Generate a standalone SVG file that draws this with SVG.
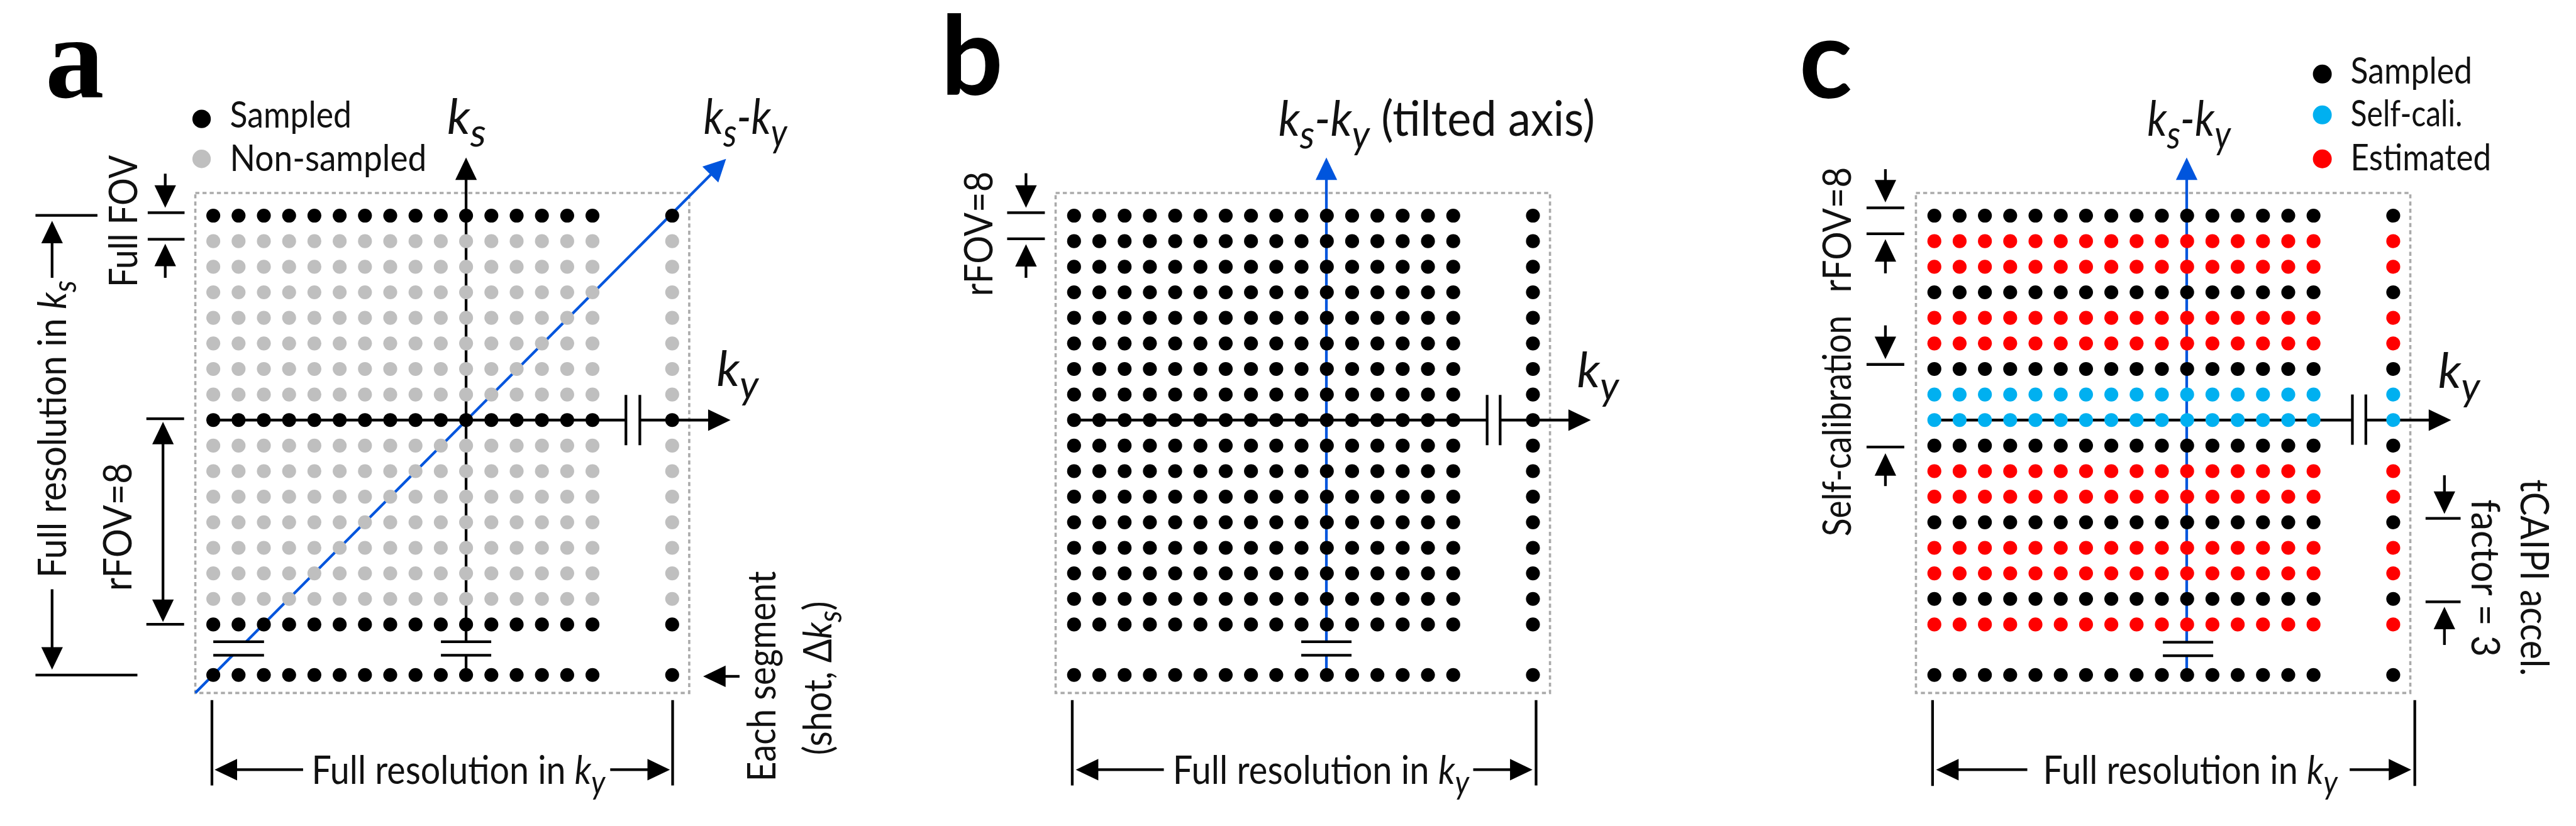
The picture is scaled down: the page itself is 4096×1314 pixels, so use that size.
<svg xmlns="http://www.w3.org/2000/svg" xmlns:xlink="http://www.w3.org/1999/xlink" width="4096" height="1314" viewBox="0 0 4096 1314">
<style>
.t{font-family:Lato,"Open Sans","Liberation Sans",sans-serif;font-size:86px;fill:#111}
.lg{font-family:Lato,"Open Sans","Liberation Sans",sans-serif;font-size:82px;fill:#111}
.k{font-family:Lato,"Open Sans","Liberation Sans",sans-serif;font-style:italic;font-size:108px;fill:#111}
.sub{font-size:88px}
.s2{font-size:72px}
.it{font-style:italic}
.up{font-style:normal}
.pl{font-family:Lato,"Open Sans","Liberation Sans",sans-serif;font-weight:700;font-size:245px;fill:#000}
.ln{stroke:#000;stroke-width:6;fill:none}
.bl{stroke:#0055dd;stroke-width:6;fill:none}
.box{fill:none;stroke:#aaaaaa;stroke-width:5;stroke-dasharray:9 7}
.K{fill:#000}
.G{fill:#bfbfbf}
.R{fill:#ff0000}
.C{fill:#00b0f0}
.bf{fill:#0055dd}
</style>
<defs>
<g id="row">
<circle cx="0" cy="0" r="15.5"/><circle cx="56.3" cy="0" r="15.5"/><circle cx="112.6" cy="0" r="15.5"/><circle cx="168.9" cy="0" r="15.5"/><circle cx="225.2" cy="0" r="15.5"/><circle cx="281.5" cy="0" r="15.5"/><circle cx="337.8" cy="0" r="15.5"/><circle cx="394.1" cy="0" r="15.5"/><circle cx="450.4" cy="0" r="15.5"/><circle cx="506.7" cy="0" r="15.5"/><circle cx="563" cy="0" r="15.5"/><circle cx="619.3" cy="0" r="15.5"/><circle cx="675.6" cy="0" r="15.5"/><circle cx="731.9" cy="0" r="15.5"/><circle cx="788.2" cy="0" r="15.5"/><circle cx="844.5" cy="0" r="15.5"/><circle cx="1022" cy="0" r="15.5"/>
</g>
<path id="aU" d="M0,0 L24,50 L-24,50Z"/>
<path id="aD" d="M0,0 L-24,-50 L24,-50Z"/>
<path id="aL" d="M0,0 L50,-24 L50,24Z"/>
<path id="aR" d="M0,0 L-50,-24 L-50,24Z"/>
</defs>
<rect width="4096" height="1314" fill="#fff"/>
<g transform="scale(0.71396)">

<!-- ================= PANEL A ================= -->
<g id="panel-a">
<text x="101" y="217" font-family="'Liberation Serif',serif" font-weight="700" font-size="262" fill="#000">a</text>
<g id="a-legend">
<circle cx="449" cy="265" r="20.5" class="K"/>
<circle cx="449" cy="354" r="20.5" class="G"/>
<text class="lg" x="512" y="285" textLength="271" lengthAdjust="spacingAndGlyphs">Sampled</text>
<text class="lg" x="512" y="381" textLength="438" lengthAdjust="spacingAndGlyphs">Non-sampled</text>
</g>
<rect class="box" x="435" y="430" width="1100" height="1114"/>
<g id="a-connectors">
<line class="bl" x1="435" y1="1544" x2="518" y2="1460"/>
<line class="bl" x1="548" y1="1430" x2="1583" y2="389"/>
<polygon class="bf" points="1617,354 1599.7,406.7 1564.3,371.3"/>
<line class="ln" x1="475" y1="1430" x2="588" y2="1430"/>
<line class="ln" x1="475" y1="1460" x2="588" y2="1460"/>
<line class="ln" x1="1038" y1="1504" x2="1038" y2="1460"/>
<line class="ln" x1="1038" y1="1430" x2="1038" y2="395"/>
<use href="#aU" x="1038" y="351"/>
<line class="ln" x1="982" y1="1430" x2="1094" y2="1430"/>
<line class="ln" x1="982" y1="1460" x2="1094" y2="1460"/>
<line class="ln" x1="475" y1="936" x2="1394" y2="936"/>
<line class="ln" x1="1425" y1="936" x2="1582" y2="936"/>
<use href="#aR" x="1627" y="936"/>
<line class="ln" x1="1394" y1="880" x2="1394" y2="992"/>
<line class="ln" x1="1425" y1="880" x2="1425" y2="992"/>
</g>
<g id="a-dots">
<use href="#row" x="475" y="480.5" class="K"/>
<use href="#row" x="475" y="537.4" class="G"/>
<use href="#row" x="475" y="594.4" class="G"/>
<use href="#row" x="475" y="651.3" class="G"/>
<use href="#row" x="475" y="708.2" class="G"/>
<use href="#row" x="475" y="765.2" class="G"/>
<use href="#row" x="475" y="822.1" class="G"/>
<use href="#row" x="475" y="879" class="G"/>
<use href="#row" x="475" y="935.9" class="K"/>
<use href="#row" x="475" y="992.9" class="G"/>
<use href="#row" x="475" y="1049.8" class="G"/>
<use href="#row" x="475" y="1106.7" class="G"/>
<use href="#row" x="475" y="1163.7" class="G"/>
<use href="#row" x="475" y="1220.6" class="G"/>
<use href="#row" x="475" y="1277.5" class="G"/>
<use href="#row" x="475" y="1334.5" class="G"/>
<use href="#row" x="475" y="1391.4" class="K"/>
<use href="#row" x="475" y="1504" class="K"/>
</g>
<g id="a-annotations">
<text class="k" x="996" y="299">k<tspan class="sub" dy="28">s</tspan></text>
<text class="k" x="1567" y="299" textLength="186" lengthAdjust="spacingAndGlyphs">k<tspan class="sub" dy="28">s</tspan><tspan dy="-28">-k</tspan><tspan class="sub" dy="28">y</tspan></text>
<text class="k" x="1596" y="860">k<tspan class="sub" dy="28">y</tspan></text>
<!-- Full FOV -->
<line class="ln" x1="329" y1="474" x2="411" y2="474"/>
<line class="ln" x1="329" y1="533" x2="411" y2="533"/>
<line class="ln" x1="368" y1="387" x2="368" y2="420"/>
<use href="#aD" x="368" y="463"/>
<use href="#aU" x="368" y="543"/>
<line class="ln" x1="368" y1="585" x2="368" y2="619"/>
<text class="t" transform="translate(305,493) rotate(-90)" text-anchor="middle" textLength="294" lengthAdjust="spacingAndGlyphs">Full FOV</text>
<!-- Full resolution in ks -->
<line class="ln" x1="79" y1="480" x2="217" y2="480"/>
<use href="#aU" x="116" y="492"/>
<line class="ln" x1="116" y1="535" x2="116" y2="619"/>
<line class="ln" x1="79" y1="1504" x2="306" y2="1504"/>
<line class="ln" x1="116" y1="1313" x2="116" y2="1450"/>
<use href="#aD" x="116" y="1492"/>
<text class="t" transform="translate(147,956) rotate(-90)" text-anchor="middle" textLength="663" lengthAdjust="spacingAndGlyphs">Full resolution in <tspan class="it">k</tspan><tspan class="it s2" dy="22">s</tspan></text>
<!-- rFOV=8 -->
<line class="ln" x1="326" y1="933" x2="410" y2="933"/>
<line class="ln" x1="326" y1="1391" x2="410" y2="1391"/>
<line class="ln" x1="363" y1="980" x2="363" y2="1350"/>
<use href="#aU" x="363" y="940"/>
<use href="#aD" x="363" y="1386"/>
<text class="t" transform="translate(293,1174) rotate(-90)" text-anchor="middle" textLength="285" lengthAdjust="spacingAndGlyphs">rFOV=8</text>
<!-- Each segment -->
<use href="#aL" x="1566" y="1507"/>
<line class="ln" x1="1605" y1="1507" x2="1647" y2="1507"/>
<text class="t" transform="translate(1727,1507) rotate(-90)" text-anchor="middle" textLength="469" lengthAdjust="spacingAndGlyphs">Each segment</text>
<text class="t" transform="translate(1852,1511) rotate(-90)" text-anchor="middle" textLength="343" lengthAdjust="spacingAndGlyphs">(shot, Δ<tspan class="it">k</tspan><tspan class="it s2" dy="22">s</tspan><tspan dy="-22">)</tspan></text>
<!-- bottom dimension -->
<line class="ln" x1="472" y1="1560" x2="472" y2="1750"/>
<line class="ln" x1="1498" y1="1560" x2="1498" y2="1750"/>
<use href="#aL" x="478" y="1715"/>
<line class="ln" x1="520" y1="1715" x2="675" y2="1715"/>
<line class="ln" x1="1359" y1="1715" x2="1450" y2="1715"/>
<use href="#aR" x="1492" y="1715"/>
<text class="t" x="694" y="1747" textLength="654" lengthAdjust="spacingAndGlyphs">Full resolution in <tspan class="it">k</tspan><tspan class="it s2" dy="22">y</tspan></text>
</g>
</g>

<!-- ================= PANEL B ================= -->
<g id="panel-b" transform="translate(1916,0)">
<text class="pl" x="179" y="212">b</text>
<rect class="box" x="435" y="430" width="1101" height="1114"/>
<g id="b-connectors">
<line class="bl" x1="1038" y1="1504" x2="1038" y2="1460"/>
<line class="bl" x1="1038" y1="1430" x2="1038" y2="395"/>
<use href="#aU" x="1038" y="351" class="bf"/>
<line class="ln" x1="982" y1="1430" x2="1094" y2="1430"/>
<line class="ln" x1="982" y1="1460" x2="1094" y2="1460"/>
<line class="ln" x1="475" y1="936" x2="1396" y2="936"/>
<line class="ln" x1="1425" y1="936" x2="1582" y2="936"/>
<use href="#aR" x="1627" y="936"/>
<line class="ln" x1="1396" y1="880" x2="1396" y2="992"/>
<line class="ln" x1="1425" y1="880" x2="1425" y2="992"/>
</g>
<g id="b-dots" class="K">
<use href="#row" x="476" y="480.5"/>
<use href="#row" x="476" y="537.4"/>
<use href="#row" x="476" y="594.4"/>
<use href="#row" x="476" y="651.3"/>
<use href="#row" x="476" y="708.2"/>
<use href="#row" x="476" y="765.2"/>
<use href="#row" x="476" y="822.1"/>
<use href="#row" x="476" y="879"/>
<use href="#row" x="476" y="935.9"/>
<use href="#row" x="476" y="992.9"/>
<use href="#row" x="476" y="1049.8"/>
<use href="#row" x="476" y="1106.7"/>
<use href="#row" x="476" y="1163.7"/>
<use href="#row" x="476" y="1220.6"/>
<use href="#row" x="476" y="1277.5"/>
<use href="#row" x="476" y="1334.5"/>
<use href="#row" x="476" y="1391.4"/>
<use href="#row" x="476" y="1504"/>
</g>
<g id="b-annotations">
<text class="k" x="931" y="302" textLength="705" lengthAdjust="spacingAndGlyphs">k<tspan class="sub" dy="28">s</tspan><tspan dy="-28">-k</tspan><tspan class="sub" dy="28">y</tspan><tspan class="up" dy="-28"> (tilted axis)</tspan></text>
<text class="k" x="1596" y="863">k<tspan class="sub" dy="28">y</tspan></text>
<line class="ln" x1="327" y1="474" x2="411" y2="474"/>
<line class="ln" x1="327" y1="532" x2="411" y2="532"/>
<line class="ln" x1="369" y1="386" x2="369" y2="420"/>
<use href="#aD" x="369" y="463"/>
<use href="#aU" x="369" y="544"/>
<line class="ln" x1="369" y1="585" x2="369" y2="619"/>
<text class="t" transform="translate(294,521) rotate(-90)" text-anchor="middle" textLength="278" lengthAdjust="spacingAndGlyphs">rFOV=8</text>
<line class="ln" x1="472" y1="1560" x2="472" y2="1750"/>
<line class="ln" x1="1505" y1="1560" x2="1505" y2="1750"/>
<use href="#aL" x="480" y="1715"/>
<line class="ln" x1="520" y1="1715" x2="676" y2="1715"/>
<line class="ln" x1="1365" y1="1715" x2="1455" y2="1715"/>
<use href="#aR" x="1497" y="1715"/>
<text class="t" x="696" y="1747" textLength="660" lengthAdjust="spacingAndGlyphs">Full resolution in <tspan class="it">k</tspan><tspan class="it s2" dy="22">y</tspan></text>
</g>
</g>

<!-- ================= PANEL C ================= -->
<g id="panel-c" transform="translate(3832,0)">
<text class="pl" x="175" y="219">c</text>
<g id="c-legend">
<circle cx="1340" cy="165" r="21" class="K"/>
<circle cx="1340" cy="256" r="21" class="C"/>
<circle cx="1340" cy="354" r="21" class="R"/>
<text class="lg" x="1403" y="186" textLength="271" lengthAdjust="spacingAndGlyphs">Sampled</text>
<text class="lg" x="1403" y="281" textLength="249" lengthAdjust="spacingAndGlyphs">Self-cali.</text>
<text class="lg" x="1403" y="379" textLength="313" lengthAdjust="spacingAndGlyphs">Estimated</text>
</g>
<rect class="box" x="435" y="430" width="1101" height="1114"/>
<g id="c-connectors">
<line class="bl" x1="1038" y1="1504" x2="1038" y2="1461"/>
<line class="bl" x1="1038" y1="1431" x2="1038" y2="395"/>
<use href="#aU" x="1038" y="351" class="bf"/>
<line class="ln" x1="985" y1="1431" x2="1097" y2="1431"/>
<line class="ln" x1="985" y1="1461" x2="1097" y2="1461"/>
<line class="ln" x1="476" y1="936" x2="1407" y2="936"/>
<line class="ln" x1="1437" y1="936" x2="1582" y2="936"/>
<use href="#aR" x="1627" y="936"/>
<line class="ln" x1="1407" y1="879" x2="1407" y2="991"/>
<line class="ln" x1="1437" y1="879" x2="1437" y2="991"/>
</g>
<g id="c-dots">
<use href="#row" x="476" y="480.5" class="K"/>
<use href="#row" x="476" y="537.4" class="R"/>
<use href="#row" x="476" y="594.4" class="R"/>
<use href="#row" x="476" y="651.3" class="K"/>
<use href="#row" x="476" y="708.2" class="R"/>
<use href="#row" x="476" y="765.2" class="R"/>
<use href="#row" x="476" y="822.1" class="K"/>
<use href="#row" x="476" y="879" class="C"/>
<use href="#row" x="476" y="935.9" class="C"/>
<use href="#row" x="476" y="992.9" class="K"/>
<use href="#row" x="476" y="1049.8" class="R"/>
<use href="#row" x="476" y="1106.7" class="R"/>
<use href="#row" x="476" y="1163.7" class="K"/>
<use href="#row" x="476" y="1220.6" class="R"/>
<use href="#row" x="476" y="1277.5" class="R"/>
<use href="#row" x="476" y="1334.5" class="K"/>
<use href="#row" x="476" y="1391.4" class="R"/>
<use href="#row" x="476" y="1504" class="K"/>
</g>
<g id="c-annotations">
<text class="k" x="950" y="302" textLength="186" lengthAdjust="spacingAndGlyphs">k<tspan class="sub" dy="28">s</tspan><tspan dy="-28">-k</tspan><tspan class="sub" dy="28">y</tspan></text>
<text class="k" x="1598" y="864">k<tspan class="sub" dy="28">y</tspan></text>
<!-- rFOV=8 markers -->
<line class="ln" x1="325" y1="463" x2="409" y2="463"/>
<line class="ln" x1="325" y1="521" x2="409" y2="521"/>
<line class="ln" x1="367" y1="377" x2="367" y2="410"/>
<use href="#aD" x="367" y="451"/>
<use href="#aU" x="367" y="533"/>
<line class="ln" x1="367" y1="575" x2="367" y2="609"/>
<!-- self-calibration markers -->
<line class="ln" x1="367" y1="725" x2="367" y2="760"/>
<use href="#aD" x="367" y="800"/>
<line class="ln" x1="325" y1="812" x2="409" y2="812"/>
<line class="ln" x1="325" y1="996" x2="409" y2="996"/>
<use href="#aU" x="367" y="1010"/>
<line class="ln" x1="367" y1="1050" x2="367" y2="1083"/>
<text class="t" transform="translate(290,512) rotate(-90)" text-anchor="middle" textLength="280" lengthAdjust="spacingAndGlyphs">rFOV=8</text>
<text class="t" transform="translate(290,949) rotate(-90)" text-anchor="middle" textLength="492" lengthAdjust="spacingAndGlyphs">Self-calibration</text>
<!-- tCAIPI markers -->
<line class="ln" x1="1612" y1="1059" x2="1612" y2="1100"/>
<use href="#aD" x="1612" y="1145"/>
<line class="ln" x1="1570" y1="1155" x2="1648" y2="1155"/>
<line class="ln" x1="1570" y1="1341" x2="1648" y2="1341"/>
<use href="#aU" x="1612" y="1352"/>
<line class="ln" x1="1612" y1="1395" x2="1612" y2="1437"/>
<text class="t" transform="translate(1782,1287) rotate(90)" text-anchor="middle" textLength="438" lengthAdjust="spacingAndGlyphs">tCAIPI accel.</text>
<text class="t" transform="translate(1673,1288) rotate(90)" text-anchor="middle" textLength="351" lengthAdjust="spacingAndGlyphs">factor = 3</text>
<!-- bottom dimension -->
<line class="ln" x1="472" y1="1560" x2="472" y2="1751"/>
<line class="ln" x1="1546" y1="1560" x2="1546" y2="1751"/>
<use href="#aL" x="480" y="1715"/>
<line class="ln" x1="520" y1="1715" x2="683" y2="1715"/>
<line class="ln" x1="1401" y1="1715" x2="1495" y2="1715"/>
<use href="#aR" x="1538" y="1715"/>
<text class="t" x="718" y="1747" textLength="656" lengthAdjust="spacingAndGlyphs">Full resolution in <tspan class="it">k</tspan><tspan class="it s2" dy="22">y</tspan></text>
</g>
</g>
</g>
</svg>
